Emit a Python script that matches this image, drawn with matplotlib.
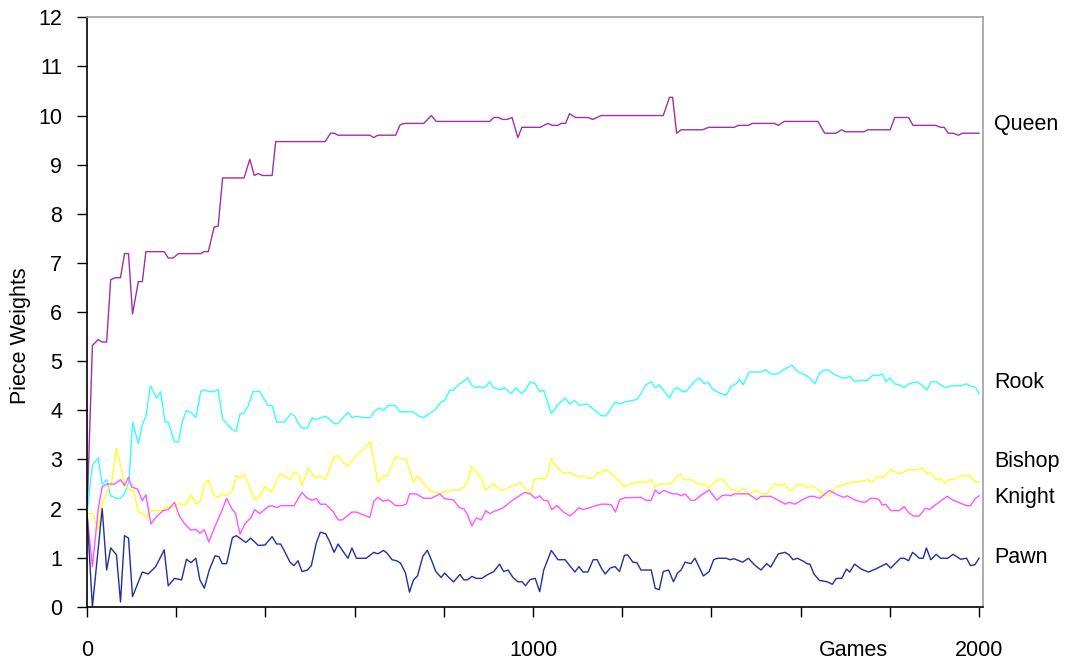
import matplotlib
matplotlib.use("Agg")
import matplotlib.pyplot as plt

plt.rcParams['font.family'] = ['Liberation Sans', 'DejaVu Sans']

# Piece weights: (game, weight) vertices per piece
queen_games = [0, 12, 25, 34, 44, 53, 64, 75, 84, 93, 102, 115, 124, 132, 173, 182, 193, 205,
               255, 262, 272, 285, 294, 304, 352, 365, 375, 384, 393, 415, 423, 534, 546, 554,
               563, 634, 643, 652, 692, 702, 712, 755, 772, 783, 903, 912, 923, 932, 942, 953,
               966, 975, 1016, 1033, 1043, 1056, 1063, 1073, 1082, 1095, 1123, 1134, 1153, 1292,
               1306, 1313, 1322, 1332, 1380, 1394, 1451, 1461, 1483, 1492, 1541, 1550, 1563,
               1639, 1654, 1679, 1692, 1701, 1742, 1751, 1801, 1811, 1842, 1852, 1903, 1914,
               1922, 1931, 1942, 1954, 1963, 2000]
queen = [1.9, 5.32, 5.44, 5.39, 5.39, 6.66, 6.7, 6.7, 7.19, 7.19, 5.96, 6.62, 6.62, 7.23, 7.23,
         7.1, 7.1, 7.19, 7.19, 7.23, 7.23, 7.73, 7.75, 8.73, 8.73, 9.11, 8.78, 8.82, 8.78, 8.78,
         9.47, 9.47, 9.64, 9.64, 9.6, 9.6, 9.55, 9.6, 9.6, 9.81, 9.84, 9.84, 10.0, 9.88, 9.88,
         9.96, 9.96, 9.92, 9.92, 9.96, 9.55, 9.76, 9.76, 9.84, 9.8, 9.8, 9.84, 9.84, 10.04, 9.96,
         9.96, 9.92, 10.0, 10.0, 10.37, 10.37, 9.64, 9.71, 9.71, 9.76, 9.76, 9.8, 9.8, 9.84,
         9.84, 9.8, 9.88, 9.88, 9.64, 9.64, 9.71, 9.67, 9.67, 9.71, 9.71, 9.96, 9.96, 9.8, 9.8,
         9.76, 9.76, 9.64, 9.64, 9.6, 9.64, 9.64]

rook_games = [0, 12, 25, 34, 44, 53, 66, 75, 85, 94, 102, 115, 124, 132, 142, 156, 165, 175, 182,
              196, 205, 214, 223, 234, 244, 255, 264, 273, 284, 294, 304, 313, 324, 334, 343, 352,
              361, 372, 387, 399, 405, 415, 425, 442, 457, 466, 473, 483, 494, 505, 514, 523, 535,
              544, 554, 563, 574, 585, 594, 604, 623, 634, 645, 655, 665, 676, 691, 701, 731, 742,
              755, 764, 779, 794, 802, 813, 821, 835, 843, 853, 862, 871, 880, 891, 903, 912, 925,
              936, 951, 962, 974, 983, 994, 1005, 1015, 1024, 1041, 1056, 1072, 1082, 1093, 1104,
              1121, 1135, 1153, 1164, 1184, 1194, 1205, 1233, 1242, 1253, 1265, 1274, 1283, 1306,
              1317, 1324, 1336, 1343, 1362, 1373, 1384, 1393, 1404, 1421, 1434, 1444, 1455, 1463,
              1471, 1485, 1511, 1522, 1533, 1548, 1563, 1580, 1595, 1608, 1621, 1632, 1642, 1653,
              1662, 1671, 1681, 1694, 1703, 1711, 1721, 1731, 1750, 1761, 1774, 1783, 1792, 1800,
              1811, 1821, 1832, 1843, 1862, 1873, 1883, 1892, 1904, 1914, 1925, 1936, 1959, 1972,
              1979, 1992, 2000]
rook = [1.9, 2.89, 3.03, 2.5, 2.59, 2.26, 2.21, 2.21, 2.32, 2.55, 3.76, 3.32, 3.71, 3.88, 4.5,
        4.25, 4.38, 3.76, 3.76, 3.36, 3.36, 3.78, 4.0, 3.95, 3.85, 4.39, 4.42, 4.38, 4.38, 4.42,
        3.83, 3.73, 3.62, 3.57, 3.93, 3.95, 4.08, 4.38, 4.39, 4.2, 4.1, 4.1, 3.76, 3.76, 3.93,
        3.88, 3.74, 3.64, 3.64, 3.85, 3.81, 3.85, 3.88, 3.82, 3.73, 3.73, 3.85, 3.96, 3.85, 3.88,
        3.85, 3.85, 3.98, 4.05, 4.0, 4.1, 4.1, 3.97, 3.97, 3.89, 3.85, 3.91, 4.0, 4.17, 4.2,
        4.41, 4.41, 4.54, 4.58, 4.66, 4.52, 4.46, 4.49, 4.46, 4.58, 4.46, 4.42, 4.46, 4.34, 4.46,
        4.34, 4.42, 4.58, 4.54, 4.38, 4.41, 3.93, 4.12, 4.25, 4.13, 4.2, 4.1, 4.13, 4.03, 3.89,
        3.89, 4.17, 4.13, 4.17, 4.22, 4.34, 4.52, 4.58, 4.46, 4.52, 4.25, 4.44, 4.46, 4.38, 4.38,
        4.59, 4.66, 4.54, 4.57, 4.42, 4.34, 4.31, 4.49, 4.54, 4.63, 4.52, 4.78, 4.78, 4.83, 4.74,
        4.74, 4.83, 4.92, 4.78, 4.73, 4.66, 4.54, 4.75, 4.82, 4.82, 4.76, 4.71, 4.66, 4.66, 4.69,
        4.58, 4.61, 4.61, 4.71, 4.71, 4.74, 4.58, 4.66, 4.54, 4.52, 4.46, 4.54, 4.58, 4.5, 4.41,
        4.58, 4.58, 4.52, 4.46, 4.5, 4.5, 4.54, 4.5, 4.47, 4.34]

bishop_games = [0, 12, 25, 34, 44, 55, 66, 75, 84, 93, 104, 115, 124, 134, 143, 171, 175, 186,
                197, 207, 216, 223, 233, 244, 253, 263, 272, 285, 293, 302, 313, 326, 335, 344,
                353, 367, 376, 387, 399, 415, 425, 434, 455, 464, 473, 482, 496, 505, 514, 523,
                535, 554, 563, 574, 585, 604, 621, 635, 652, 664, 673, 692, 703, 716, 725, 732,
                741, 761, 772, 783, 792, 802, 811, 818, 835, 845, 853, 862, 873, 884, 893, 903,
                912, 925, 934, 951, 974, 985, 994, 1003, 1015, 1024, 1032, 1041, 1052, 1063, 1072,
                1082, 1093, 1104, 1113, 1123, 1135, 1144, 1153, 1162, 1173, 1190, 1205, 1216, 1233,
                1253, 1265, 1274, 1283, 1304, 1313, 1323, 1330, 1339, 1354, 1371, 1382, 1395, 1405,
                1421, 1433, 1444, 1451, 1461, 1471, 1483, 1502, 1511, 1524, 1542, 1552, 1565, 1574,
                1583, 1592, 1608, 1615, 1623, 1630, 1642, 1662, 1680, 1692, 1713, 1731, 1750, 1761,
                1774, 1783, 1802, 1821, 1842, 1862, 1873, 1883, 1890, 1904, 1914, 1923, 1933, 1942,
                1963, 1979, 1992, 2000]
bishop = [1.9, 1.9, 1.57, 2.11, 2.32, 2.52, 3.23, 2.89, 2.52, 2.38, 2.38, 1.93, 1.9, 1.82, 1.96,
          1.96, 2.04, 2.01, 2.04, 2.11, 2.06, 2.1, 2.28, 2.1, 2.13, 2.47, 2.59, 2.26, 2.23, 2.3,
          2.26, 2.37, 2.67, 2.62, 2.7, 2.37, 2.18, 2.25, 2.45, 2.33, 2.59, 2.71, 2.59, 2.74, 2.72,
          2.47, 2.83, 2.72, 2.62, 2.67, 2.59, 3.05, 3.08, 2.94, 2.87, 3.08, 3.22, 3.36, 2.54, 2.67,
          2.66, 3.06, 3.03, 3.0, 2.72, 2.54, 2.67, 2.44, 2.34, 2.34, 2.3, 2.36, 2.34, 2.38, 2.38,
          2.44, 2.55, 2.86, 2.74, 2.62, 2.38, 2.44, 2.5, 2.38, 2.38, 2.45, 2.53, 2.37, 2.28, 2.59,
          2.62, 2.59, 2.66, 3.03, 2.86, 2.76, 2.71, 2.74, 2.69, 2.64, 2.67, 2.62, 2.62, 2.74, 2.74,
          2.79, 2.74, 2.59, 2.45, 2.5, 2.54, 2.54, 2.59, 2.42, 2.5, 2.5, 2.54, 2.67, 2.7, 2.59,
          2.59, 2.5, 2.5, 2.42, 2.52, 2.62, 2.5, 2.38, 2.38, 2.34, 2.42, 2.3, 2.38, 2.3, 2.3, 2.5,
          2.47, 2.5, 2.38, 2.38, 2.5, 2.47, 2.42, 2.47, 2.45, 2.35, 2.25, 2.45, 2.47, 2.54, 2.54,
          2.59, 2.54, 2.66, 2.62, 2.79, 2.71, 2.79, 2.79, 2.83, 2.71, 2.74, 2.59, 2.62, 2.51,
          2.59, 2.59, 2.67, 2.67, 2.54, 2.54]

knight_games = [0, 12, 25, 34, 44, 62, 75, 84, 93, 100, 113, 124, 132, 143, 156, 171, 182, 196,
                207, 219, 233, 244, 253, 263, 273, 287, 300, 313, 324, 333, 343, 354, 367, 376,
                387, 399, 406, 415, 425, 434, 464, 482, 494, 505, 514, 523, 535, 552, 563, 572,
                594, 604, 634, 643, 652, 664, 676, 692, 705, 716, 723, 738, 755, 772, 791, 802,
                821, 835, 845, 853, 863, 873, 884, 894, 903, 912, 932, 951, 966, 981, 994, 1005,
                1015, 1024, 1033, 1042, 1054, 1067, 1082, 1091, 1103, 1112, 1127, 1141, 1153, 1162,
                1175, 1185, 1194, 1205, 1242, 1253, 1265, 1274, 1283, 1293, 1313, 1324, 1332, 1341,
                1354, 1363, 1378, 1395, 1412, 1423, 1433, 1444, 1451, 1483, 1502, 1511, 1533, 1548,
                1566, 1574, 1587, 1608, 1621, 1630, 1642, 1651, 1664, 1683, 1696, 1705, 1720, 1739,
                1745, 1757, 1768, 1776, 1783, 1791, 1802, 1821, 1832, 1843, 1853, 1866, 1880, 1889,
                1903, 1918, 1929, 1940, 1959, 1972, 1981, 1992, 2000]
knight = [1.9, 0.82, 1.98, 2.45, 2.5, 2.5, 2.59, 2.47, 2.64, 2.44, 2.4, 2.16, 2.28, 1.69, 1.84,
          1.96, 1.98, 2.13, 1.85, 1.69, 1.56, 1.58, 1.5, 1.57, 1.32, 1.64, 1.91, 2.21, 2.01, 1.9,
          1.48, 1.69, 1.81, 1.98, 1.9, 1.99, 2.04, 2.06, 2.02, 2.06, 2.06, 2.33, 2.21, 2.17, 2.21,
          2.09, 2.09, 1.94, 1.77, 1.77, 1.93, 1.93, 1.82, 2.15, 2.23, 2.15, 2.18, 2.06, 2.06, 2.09,
          2.3, 2.3, 2.21, 2.21, 2.3, 2.2, 2.18, 2.02, 1.99, 1.88, 1.65, 1.81, 1.77, 1.96, 1.9,
          1.94, 2.01, 2.15, 2.24, 2.33, 2.3, 2.21, 2.26, 2.17, 2.16, 1.98, 2.06, 1.94, 1.85, 1.91,
          2.02, 1.98, 2.02, 2.06, 2.09, 2.09, 2.08, 1.93, 2.18, 2.22, 2.23, 2.17, 2.17, 2.38, 2.3,
          2.37, 2.3, 2.3, 2.26, 2.3, 2.17, 2.17, 2.28, 2.38, 2.17, 2.26, 2.28, 2.26, 2.3, 2.3,
          2.18, 2.25, 2.25, 2.18, 2.09, 2.13, 2.09, 2.2, 2.25, 2.25, 2.21, 2.27, 2.37, 2.28, 2.23,
          2.26, 2.18, 2.13, 2.13, 2.21, 2.21, 2.18, 2.07, 2.09, 1.96, 1.96, 2.04, 1.91, 1.85, 1.85,
          2.01, 1.98, 2.08, 2.18, 2.25, 2.18, 2.11, 2.06, 2.06, 2.21, 2.26]

pawn_games = [0, 12, 34, 44, 53, 66, 75, 84, 93, 102, 124, 137, 154, 173, 182, 196, 212, 223, 233,
              244, 253, 263, 274, 287, 296, 303, 313, 326, 335, 356, 367, 384, 399, 415, 425, 434,
              443, 455, 464, 473, 482, 494, 503, 514, 523, 535, 543, 554, 563, 574, 585, 594, 604,
              626, 643, 652, 665, 673, 684, 694, 703, 714, 723, 732, 741, 753, 763, 772, 782, 794,
              802, 811, 822, 836, 845, 853, 863, 873, 885, 897, 912, 925, 934, 944, 955, 966, 976,
              983, 994, 1005, 1015, 1024, 1041, 1056, 1072, 1084, 1094, 1103, 1112, 1123, 1135,
              1144, 1153, 1162, 1173, 1184, 1194, 1205, 1212, 1224, 1233, 1242, 1265, 1274, 1283,
              1292, 1304, 1315, 1324, 1332, 1341, 1354, 1363, 1382, 1395, 1405, 1414, 1433, 1442,
              1451, 1470, 1483, 1496, 1511, 1524, 1533, 1550, 1565, 1574, 1583, 1593, 1608, 1614,
              1621, 1630, 1642, 1660, 1671, 1680, 1692, 1703, 1710, 1721, 1736, 1752, 1768, 1792,
              1802, 1824, 1832, 1842, 1851, 1858, 1866, 1875, 1882, 1892, 1904, 1914, 1930, 1942,
              1959, 1972, 1981, 1991, 2000]
pawn = [1.9, 0.0, 2.0, 0.75, 1.2, 1.06, 0.1, 1.45, 1.4, 0.21, 0.71, 0.67, 0.82, 1.16, 0.43, 0.58,
        0.55, 0.97, 0.9, 0.99, 0.55, 0.38, 0.75, 1.04, 1.02, 0.88, 0.88, 1.41, 1.45, 1.31, 1.4,
        1.25, 1.26, 1.43, 1.28, 1.28, 1.13, 0.91, 0.84, 0.94, 0.72, 0.75, 0.84, 1.3, 1.52, 1.49,
        1.35, 1.11, 1.28, 1.13, 0.99, 1.2, 0.99, 0.99, 1.11, 1.08, 1.15, 1.09, 0.96, 0.94, 0.89,
        0.69, 0.3, 0.55, 0.63, 1.03, 1.15, 0.96, 0.72, 0.6, 0.69, 0.6, 0.51, 0.66, 0.55, 0.55,
        0.62, 0.58, 0.58, 0.65, 0.72, 0.87, 0.72, 0.75, 0.6, 0.51, 0.51, 0.43, 0.56, 0.58, 0.31,
        0.75, 1.15, 0.96, 0.96, 0.82, 0.71, 0.82, 0.71, 0.71, 0.96, 0.96, 0.79, 0.67, 0.79, 0.82,
        0.72, 1.05, 1.06, 0.91, 0.9, 0.75, 0.75, 0.38, 0.35, 0.72, 0.75, 0.51, 0.69, 0.75, 0.91,
        0.88, 0.99, 0.63, 0.72, 0.96, 0.99, 0.99, 0.96, 0.98, 0.91, 0.99, 0.86, 0.75, 0.88, 0.81,
        1.08, 1.11, 1.06, 0.96, 0.99, 0.92, 0.88, 0.87, 0.67, 0.54, 0.51, 0.46, 0.58, 0.58, 0.77,
        0.71, 0.87, 0.77, 0.71, 0.77, 0.88, 0.79, 0.99, 0.99, 0.94, 1.11, 1.06, 0.99, 0.99, 1.2,
        0.96, 1.07, 0.99, 0.99, 1.07, 0.97, 0.99, 0.84, 0.86, 0.99]

names = ['Queen', 'Rook', 'Bishop', 'Knight', 'Pawn']
colors = ['#A030A8', '#33FFFF', '#FFFF22', '#FF55FF', '#2030A0']
label_y = [9.82, 4.56, 2.95, 2.22, 1.0]

fig = plt.figure(figsize=(10.68, 6.64), dpi=100)
ax = fig.add_axes([0.0815, 0.086, 0.8385, 0.888])

series = [(queen_games, queen), (rook_games, rook), (bishop_games, bishop),
          (knight_games, knight), (pawn_games, pawn)]
for (gx, gy), name, c in zip(series, names, colors):
    ax.plot(gx, gy, color=c, linewidth=1.0, label=name)

for name, c, ly in zip(names, colors, label_y):
    ax.text(1.013, ly, name, transform=ax.get_yaxis_transform(), fontsize=15.5,
            va='center', ha='left', color='black')

ax.set_xlim(0, 2008)
ax.set_ylim(0, 12)
ax.set_yticks(range(0, 13))
ax.set_xticks(range(0, 2001, 200))
ax.set_xticklabels(['0', '', '', '', '', '1000', '', '', '', '', '2000'])
ax.tick_params(axis='both', direction='out', length=7, width=1, labelsize=15.5, colors='black')
ax.tick_params(axis='x', pad=17)
ax.tick_params(axis='y', pad=11)

for s in ['left', 'bottom']:
    ax.spines[s].set_color('black')
    ax.spines[s].set_linewidth(1.2)
for s in ['top', 'right']:
    ax.spines[s].set_color('#A0A0A0')
    ax.spines[s].set_linewidth(1.2)

ax.set_ylabel('Piece Weights', fontsize=15.5, labelpad=10)
ax.yaxis.set_label_coords(-0.063, 0.46)
fig.text(0.799, 0.021, 'Games', fontsize=15.5, ha='center', va='center')

fig.savefig('out.png', dpi=100)
